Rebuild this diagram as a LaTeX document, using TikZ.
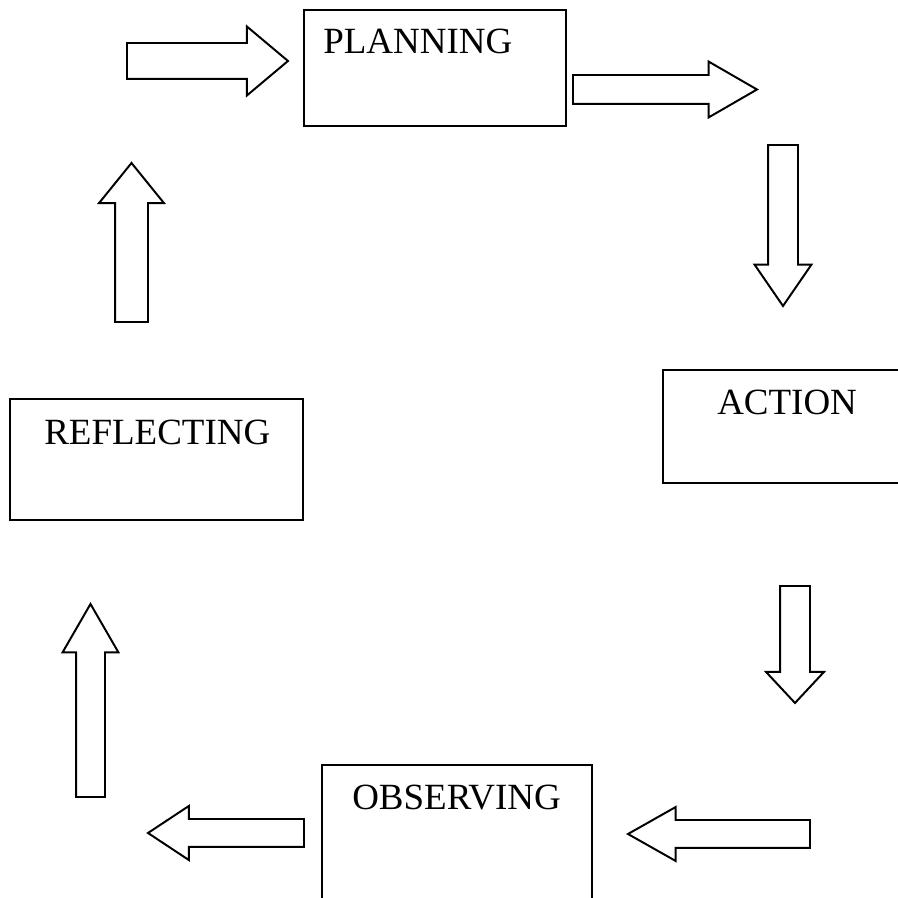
\documentclass[tikz,border=0pt]{standalone}
\usepackage{fontspec}
\setmainfont{Liberation Serif}
\usepackage{tikz}
\usetikzlibrary{shapes.arrows, positioning}

\tikzset{
	stagebox/.style={draw, line width=1.4pt, rectangle, inner sep=0pt, outer sep=0pt},
	stagename/.style={anchor=base west, inner sep=0pt, font=\fontsize{26.3}{30}\selectfont},
	blockarr/.style={single arrow, draw, line width=1.4pt, minimum width=0pt, inner xsep=0pt, outer sep=0pt, anchor=tail}
}

\begin{document}
\begin{tikzpicture}
	\useasboundingbox (0, 0) rectangle (22.45, 22.45);
	\clip (0, 0) rectangle (22.45, 22.45);

	% the four stages
	\node[stagebox, minimum width=6.55cm, minimum height=2.9cm] (plan) at (10.875, 20.75) {};
	\node[stagebox, minimum width=6.175cm, minimum height=2.825cm] (act) at (19.6625, 11.7875) {};
	\node[stagebox, minimum width=6.75cm, minimum height=3.825cm] (obs) at (11.425, 1.4125) {};
	\node[stagebox, minimum width=7.325cm, minimum height=3.025cm] (refl) at (3.9125, 10.9625) {};

	\node[stagename] (plantext) at (8.075, 21.1) {PLANNING};
	\node[stagename] (acttext) at (17.925, 12.075) {ACTION};
	\node[stagename] (obstext) at (8.8, 2.2) {OBSERVING};
	\node[stagename] (refltext) at (1.1, 11.325) {REFLECTING};

	% block arrows round the cycle
	\node[blockarr, minimum height=4.025cm, inner ysep=0.425cm, single arrow head extend=0.4125cm, single arrow tip angle=80] (intoplan) at (3.175, 20.925) {};
	\node[blockarr, minimum height=4.6cm, inner ysep=0.3375cm, single arrow head extend=0.3375cm, single arrow tip angle=60] (outofplan) at (14.325, 20.2125) {};
	\node[blockarr, rotate=-90, minimum height=4.025cm, inner ysep=0.35cm, single arrow head extend=0.3375cm, single arrow tip angle=69] (intoact) at (19.575, 18.825) {};
	\node[blockarr, rotate=-90, minimum height=2.925cm, inner ysep=0.35cm, single arrow head extend=0.35cm, single arrow tip angle=86] (outofact) at (19.875, 7.8) {};
	\node[blockarr, rotate=180, minimum height=4.55cm, inner ysep=0.325cm, single arrow head extend=0.325cm, single arrow tip angle=59] (intoobs) at (20.25, 1.6) {};
	\node[blockarr, rotate=180, minimum height=3.9cm, inner ysep=0.325cm, single arrow head extend=0.325cm, single arrow tip angle=67] (outofobs) at (7.6, 1.625) {};
	\node[blockarr, rotate=90, minimum height=4.825cm, inner ysep=0.3375cm, single arrow head extend=0.3375cm, single arrow tip angle=60] (intorefl) at (2.2625, 2.525) {};
	\node[blockarr, rotate=90, minimum height=3.975cm, inner ysep=0.3875cm, single arrow head extend=0.4cm, single arrow tip angle=78] (outofrefl) at (3.2875, 14.4) {};
\end{tikzpicture}
\end{document}
